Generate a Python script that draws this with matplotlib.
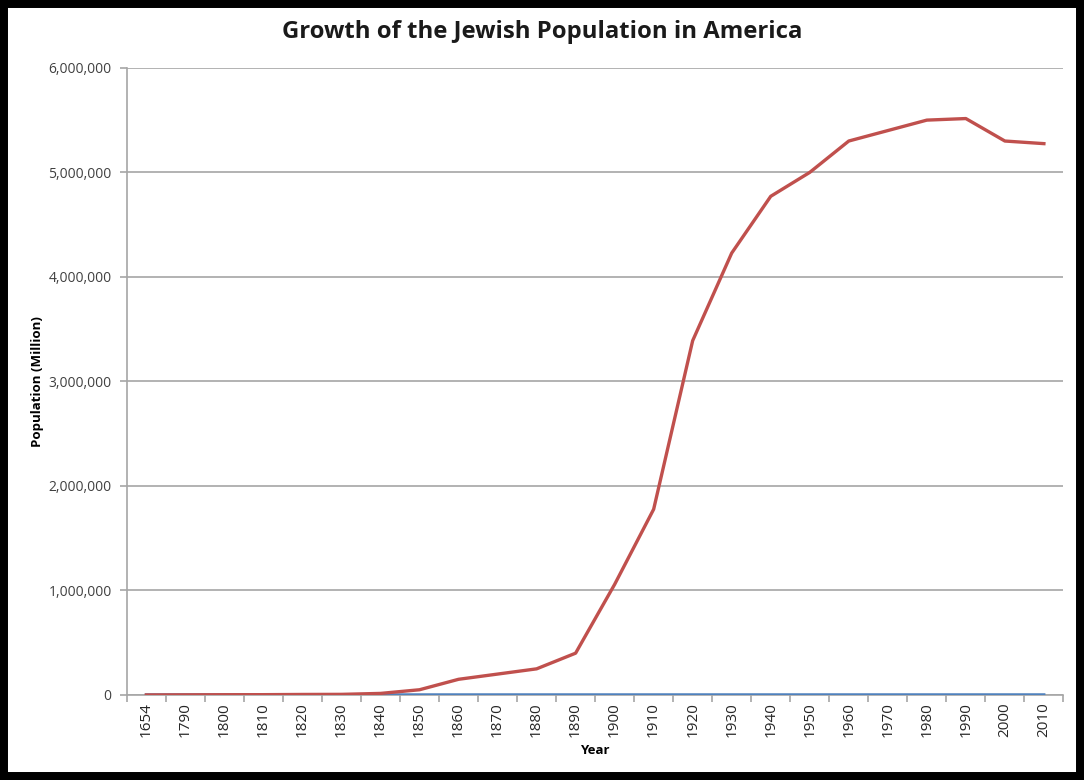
import matplotlib.pyplot as plt
from matplotlib.patches import Rectangle
from matplotlib.ticker import FuncFormatter, FixedLocator

plt.rcParams['font.family'] = ['Open Sans', 'DejaVu Sans']

years = ["1654", "1790", "1800", "1810", "1820", "1830", "1840", "1850", "1860",
         "1870", "1880", "1890", "1900", "1910", "1920", "1930", "1940", "1950",
         "1960", "1970", "1980", "1990", "2000", "2010"]
year_values = [1654, 1790, 1800, 1810, 1820, 1830, 1840, 1850, 1860, 1870, 1880,
               1890, 1900, 1910, 1920, 1930, 1940, 1950, 1960, 1970, 1980, 1990,
               2000, 2010]
population = [200, 1300, 2500, 3000, 5000, 6000, 15000, 50000, 150000, 200000,
              250000, 400000, 1058000, 1777000, 3390000, 4228000, 4771000,
              5000000, 5300000, 5400000, 5500000, 5515000, 5300000, 5275000]

fig = plt.figure(figsize=(10.84, 7.80), dpi=100)
ax = fig.add_axes([0.117, 0.109, 0.864, 0.804])

x = list(range(len(years)))
ax.plot(x, year_values, color='#4F81BD', lw=2.2, zorder=3)
ax.plot(x, population, color='#C0504D', lw=2.4, zorder=4)

ax.set_xlim(-0.5, len(years) - 0.5)
ax.set_ylim(0, 6000000)
ax.set_yticks(range(0, 6000001, 1000000))
ax.yaxis.set_major_formatter(FuncFormatter(lambda v, p: "{:,.0f}".format(v)))
ax.grid(axis='y', color='#a6a6a6', lw=1.2)
ax.set_axisbelow(True)

ax.set_xticks(x)
ax.set_xticklabels(years, rotation=90)
ax.xaxis.set_minor_locator(FixedLocator([i + 0.5 for i in range(-1, len(years))]))
ax.tick_params(axis='x', which='major', length=0, pad=5, labelsize=11, labelcolor='#262626')
ax.tick_params(axis='x', which='minor', length=5, color='#a6a6a6', width=1.2)
ax.tick_params(axis='y', length=5, color='#a6a6a6', width=1.2, labelsize=10,
               labelcolor='#404040', pad=6)

for s in ['top', 'right']:
    ax.spines[s].set_visible(False)
for s in ['left', 'bottom']:
    ax.spines[s].set_color('#a6a6a6')
    ax.spines[s].set_linewidth(1.2)

fig.text(0.5, 1 - 32 / 780, 'Growth of the Jewish Population in America',
         fontsize=17.2, fontweight='bold', color='#1a1a1a', ha='center', va='center')
ax.set_xlabel('Year', fontsize=9.5, fontweight='bold', labelpad=5)
ax.set_ylabel('Population (Million)', fontsize=9.5, fontweight='bold', labelpad=3)

fig.add_artist(Rectangle((0, 0), 1, 1, transform=fig.transFigure, fill=False,
                         lw=11.5, ec='black'))

fig.savefig('out.png', dpi=100)
